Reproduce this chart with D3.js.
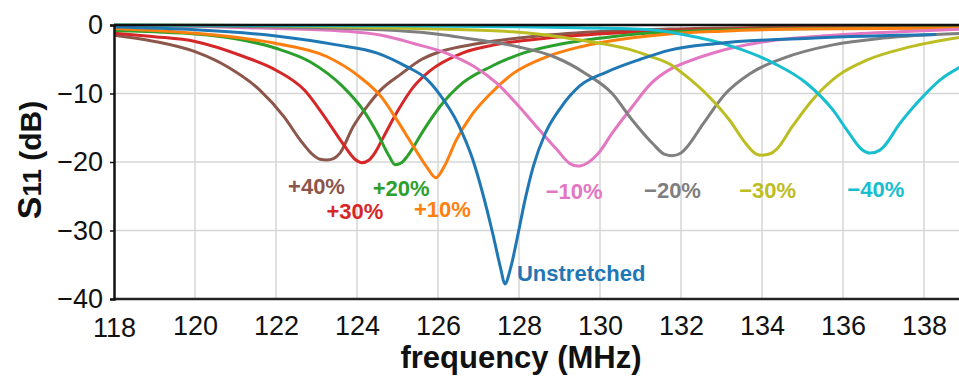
<!DOCTYPE html>
<html>
<head>
<meta charset="utf-8">
<script src="https://cdn.jsdelivr.net/npm/d3@7"></script>
<style>
    html, body { margin: 0; padding: 0; background: white; }
    svg { display: block; font-family: 'Liberation Sans', Arial, sans-serif; }
</style>
</head>
<body>
<svg class="main" width="959" height="382"></svg>
<script>
// tick labels
const freqTicks = [118, 120, 122, 124, 126, 128, 130, 132, 134, 136, 138],
    dbTicks = [0, -10, -20, -30, -40];

// one array of [MHz, dB] per stretch
const unstretched = [[118, -0.3], [120, -0.7], [122, -1.6], [123.5, -2.9], [124.5, -4.1], [125.2, -6], [125.7, -7.8], [126.05, -10.2], [126.5, -14.5], [126.85, -19.5], [127.1, -24.5], [127.35, -30.4], [127.55, -35.6], [127.65, -37.8], [127.8, -35.3], [127.98, -30.4], [128.15, -25.5], [128.35, -20.7], [128.65, -15.8], [129.05, -11.9], [129.5, -8.9], [130.15, -6.9], [131, -5], [131.7, -3.7], [132.9, -2.7], [135.3, -1.9], [138.3, -1.4]],
    plus10 = [[118, -0.5], [119, -0.8], [120, -1.2], [121, -1.8], [122, -2.7], [123.25, -4.6], [124.05, -7.5], [124.6, -10.5], [125, -14], [125.4, -17.8], [125.72, -20.7], [125.95, -22.3], [126.15, -20.7], [126.45, -16.8], [126.8, -13.4], [127.3, -10], [127.85, -7.1], [128.7, -4.6], [129.5, -3.2], [130.75, -1.9], [131.7, -1.3], [133, -0.9], [135, -0.6], [139, -0.45]],
    plus20 = [[118, -0.8], [119, -1], [120, -1.3], [121, -2], [122, -3.4], [122.85, -5.4], [123.65, -9], [124.15, -12.4], [124.5, -15.8], [124.8, -19.2], [124.94, -20.4], [125.1, -20.1], [125.25, -19.1], [125.65, -15.3], [126.05, -11.9], [126.6, -8.5], [127.3, -6.1], [128.1, -4.1], [129.1, -2.7], [130.3, -1.7], [131.7, -1], [134, -0.6], [136.5, -0.45], [139, -0.4]],
    plus30 = [[118, -1.2], [119, -1.7], [120, -2.4], [121.2, -4.6], [122, -6.6], [122.7, -9.5], [123.2, -13.4], [123.65, -17.3], [123.95, -19.6], [124.12, -20.1], [124.3, -19.7], [124.45, -18.6], [124.65, -16.4], [125, -12.6], [125.4, -9], [125.8, -6.7], [126.6, -4.1], [127.4, -2.9], [128.7, -1.9], [130.3, -1.2], [131.7, -0.8], [134, -0.5], [136.5, -0.35], [139, -0.3]],
    plus40 = [[118, -1.5], [119, -2.4], [120, -3.9], [120.8, -6.1], [121.6, -9.5], [122.2, -13.4], [122.6, -16.8], [122.92, -19], [123.09, -19.6], [123.25, -19.7], [123.42, -19.5], [123.58, -18.7], [123.9, -14.9], [124.3, -11.5], [124.6, -9.4], [125.1, -7.1], [125.6, -5], [126, -4], [127, -2.7], [128.3, -1.7], [129.9, -1], [131.7, -0.6], [134, -0.35], [136.5, -0.25], [139, -0.2]],
    minus10 = [[118, -0.1], [120, -0.2], [122, -0.5], [123.7, -0.9], [124.6, -1.5], [125.4, -2.7], [126.2, -4.1], [126.9, -6.1], [127.45, -8.5], [128, -11.9], [128.5, -15.3], [128.95, -18.3], [129.25, -20.2], [129.45, -20.6], [129.7, -20.1], [129.95, -18.8], [130.3, -15.8], [130.8, -11.9], [131.25, -8.6], [131.75, -6.4], [132.1, -5.5], [132.9, -3.9], [134.1, -2.4], [135.75, -1.5], [137.4, -1], [139, -0.6]],
    minus20 = [[118, -0.1], [120, -0.15], [122, -0.3], [124.6, -0.7], [125.8, -1.2], [127, -2.2], [128, -3.2], [128.85, -4.6], [129.65, -7.1], [130.3, -10], [130.8, -13.9], [131.3, -17.3], [131.6, -18.9], [131.78, -19.1], [132, -18.7], [132.15, -17.8], [132.55, -14.4], [133.1, -10], [133.7, -7.1], [134.5, -4.9], [135.75, -2.9], [137, -1.9], [139, -1.2]],
    minus30 = [[118, 0], [122, -0.1], [124.6, -0.4], [126, -0.6], [127.85, -1], [129.5, -2.2], [130.75, -3.6], [131.25, -4.6], [131.75, -5.8], [132.05, -7.1], [132.7, -10.5], [133.2, -13.9], [133.6, -17.3], [133.85, -18.8], [134, -19], [134.2, -18.8], [134.35, -18.2], [134.75, -14.8], [135.25, -10.9], [135.85, -7.5], [136.6, -5.1], [137.65, -3.2], [139, -1.7]],
    minus40 = [[118, 0], [124, -0.1], [128, -0.25], [129.5, -0.4], [131.25, -0.7], [132.05, -1.4], [133.3, -3.2], [134.3, -5.6], [135.1, -8.5], [135.75, -12.4], [136.15, -15.8], [136.45, -18.1], [136.67, -18.7], [136.9, -18.3], [137, -17.8], [137.4, -14.4], [137.9, -10.9], [138.4, -8], [139, -5.8]];

const seriesNames = ['+40%', '+30%', '+20%', '+10%', '\u221210%', '\u221220%', '\u221230%', '\u221240%', 'Unstretched'],
    seriesValues = [plus40, plus30, plus20, plus10, minus10, minus20, minus30, minus40, unstretched],
    seriesColors = ['#8c564b', '#d62728', '#2ca02c', '#ff7f0e', '#e377c2', '#7f7f7f', '#bcbd22', '#17becf', '#1f77b4'];

// label anchors, in chart units (MHz, dB)
const labelAt = [[123.0, -24.7], [123.95, -28.3], [125.09, -25.0], [126.11, -28.0], [129.36, -25.4], [131.79, -25.3], [134.14, -25.3], [136.81, -25.1], [127.95, -37.4]];

const svg = d3.select('svg.main'),
    width = 959,
    plot = { left: 114, top: 25, bottom: 299 };

const x = d3.scaleLinear().domain([118, 138]).range([plot.left, 924]),
    y = d3.scaleLinear().domain([-40, 0]).range([plot.bottom, plot.top]);

svg.append('clipPath')
    .attr('id', 'plot-clip')
    .append('rect')
    .attr('x', plot.left)
    .attr('y', plot.top - 4)
    .attr('width', width - plot.left)
    .attr('height', plot.bottom - plot.top + 8);

// grid
const grid = svg.append('g').attr('class', 'grid');

grid.selectAll('line.vgrid')
    .data(freqTicks.slice(1))
    .enter()
    .append('line')
    .attr('x1', d => x(d))
    .attr('x2', d => x(d))
    .attr('y1', plot.top)
    .attr('y2', plot.bottom)
    .attr('stroke', '#d6d6d6')
    .attr('stroke-width', 1.5);

grid.selectAll('line.hgrid')
    .data(dbTicks.slice(1, -1))
    .enter()
    .append('line')
    .attr('x1', plot.left)
    .attr('x2', width)
    .attr('y1', d => y(d))
    .attr('y2', d => y(d))
    .attr('stroke', '#d6d6d6')
    .attr('stroke-width', 1.5);

// curves
const line = d3.line()
    .x(d => x(d[0]))
    .y(d => y(d[1]))
    .curve(d3.curveMonotoneX);

svg.append('g')
    .attr('clip-path', 'url(#plot-clip)')
    .selectAll('path')
    .data(seriesValues)
    .enter()
    .append('path')
    .attr('d', line)
    .attr('fill', 'none')
    .attr('stroke', (d, i) => seriesColors[i])
    .attr('stroke-width', 3)
    .attr('stroke-linejoin', 'round');

// frame: zero line on top, left and bottom axes
svg.append('line')
    .attr('x1', plot.left).attr('x2', width)
    .attr('y1', y(0)).attr('y2', y(0))
    .attr('stroke', '#111').attr('stroke-width', 2.5);

svg.append('line')
    .attr('x1', plot.left).attr('x2', width)
    .attr('y1', y(-40)).attr('y2', y(-40))
    .attr('stroke', '#222').attr('stroke-width', 2.5);

const yAxis = svg.append('g')
    .attr('transform', 'translate(' + plot.left + ',0)')
    .call(d3.axisLeft(y).tickValues(dbTicks).tickSize(4).tickPadding(7)
        .tickFormat(d => d === 0 ? '0' : '\u2212' + Math.abs(d)));

yAxis.select('.domain').attr('stroke', '#111').attr('stroke-width', 2.5);
yAxis.selectAll('.tick line').attr('stroke', '#111').attr('stroke-width', 1.5);
yAxis.selectAll('.tick text')
    .attr('font-size', 27)
    .attr('font-family', "'Liberation Sans', Arial, sans-serif")
    .attr('fill', '#111');

const xAxis = svg.append('g')
    .attr('transform', 'translate(0,' + plot.bottom + ')')
    .call(d3.axisBottom(x).tickValues(freqTicks).tickSize(0).tickPadding(10));

xAxis.select('.domain').remove();
xAxis.selectAll('.tick text')
    .attr('font-size', 27)
    .attr('font-family', "'Liberation Sans', Arial, sans-serif")
    .attr('fill', '#111')
    .attr('dy', d => d === 118 ? '1.05em' : '0.95em');

// series labels
svg.append('g')
    .selectAll('text')
    .data(seriesNames)
    .enter()
    .append('text')
    .text(d => d)
    .attr('x', (d, i) => x(labelAt[i][0]))
    .attr('y', (d, i) => y(labelAt[i][1]))
    .attr('text-anchor', (d, i) => i === 8 ? 'start' : 'middle')
    .attr('fill', (d, i) => seriesColors[i])
    .attr('font-weight', 'bold')
    .attr('font-size', 22);

// axis titles
svg.append('text')
    .text('frequency (MHz)')
    .attr('x', 521)
    .attr('y', 368)
    .attr('text-anchor', 'middle')
    .attr('font-weight', 'bold')
    .attr('font-size', 31)
    .attr('fill', '#111');

const yTitle = svg.append('text')
    .attr('transform', 'translate(41,160) rotate(-90)')
    .attr('text-anchor', 'middle')
    .attr('font-weight', 'bold')
    .attr('fill', '#111');

yTitle.append('tspan').text('S').attr('font-size', 34);
yTitle.append('tspan').text('11').attr('font-size', 26);
yTitle.append('tspan').text(' (dB)').attr('font-size', 30);
</script>
</body>
</html>
